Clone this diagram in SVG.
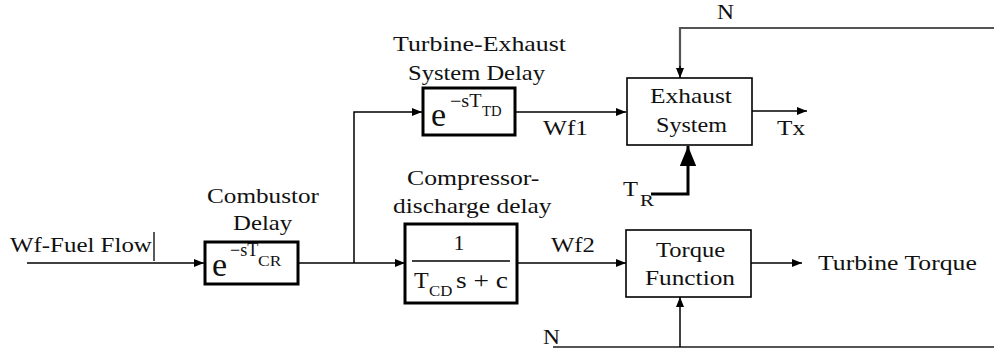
<svg xmlns="http://www.w3.org/2000/svg" width="994" height="352" viewBox="0 0 994 352" font-family="Liberation Serif">
<style>
  .lbl { font-size: 21px; }
  .thin { fill: none; stroke: #000; stroke-width: 1.5; }
  .gray { fill: none; stroke: #555; stroke-width: 2.2; }
  .thick { fill: none; stroke: #000; stroke-width: 3; }
  .tbox { fill: #fff; stroke: #000; stroke-width: 3; }
  .nbox { fill: #fff; stroke: #000; stroke-width: 1.6; }
</style>
<defs>
  <marker id="arr" viewBox="0 0 10 8" refX="10" refY="4" markerWidth="11" markerHeight="8" markerUnits="userSpaceOnUse" orient="auto">
    <path d="M0,0 L10,4 L0,8 z" fill="#000"/>
  </marker>
  <marker id="arrBig" viewBox="0 0 22 18" refX="22" refY="9" markerWidth="20" markerHeight="18" markerUnits="userSpaceOnUse" orient="auto">
    <path d="M0,0 L22,9 L0,18 z" fill="#000"/>
  </marker>
</defs>
<rect width="994" height="352" fill="#fff"/>

<g id="connectors">
  <path class="thin" d="M27,263 H204" marker-end="url(#arr)"/>
  <path class="thin" d="M298,263 H405" marker-end="url(#arr)"/>
  <path class="thin" d="M354,263 V112 H422" marker-end="url(#arr)"/>
  <path class="thin" d="M515,112 H626" marker-end="url(#arr)"/>
  <path class="thin" d="M752,111 H807" marker-end="url(#arr)"/>
  <path class="gray" d="M994,28 H680 V68"/>
  <path class="thin" d="M680,66 V78" marker-end="url(#arr)"/>
  <path class="thick" d="M651,194 H688 V146" marker-end="url(#arrBig)"/>
  <path class="thin" d="M517,263 H626" marker-end="url(#arr)"/>
  <path class="thin" d="M751,263 H802" marker-end="url(#arr)"/>
  <path class="gray" d="M553,347 H994"/>
  <path class="thin" d="M680,347 V297" marker-end="url(#arr)"/>
</g>

<g id="input" font-family="Liberation Serif" fill="#111">
  <text class="lbl" font-family="Liberation Serif" transform="translate(10 252) scale(1.187 1)">Wf-Fuel Flow</text>
  <line x1="154" y1="232" x2="154" y2="261" stroke="#000" stroke-width="1.3"/>
</g>

<g id="combustor-delay" font-family="Liberation Serif" fill="#111">
  <text class="lbl" font-family="Liberation Serif" transform="translate(207 203) scale(1.2 1)">Combustor</text>
  <text class="lbl" font-family="Liberation Serif" transform="translate(233 230) scale(1.18 1)">Delay</text>
  <rect class="tbox" x="205" y="242" width="93" height="42"/>
  <text font-family="Liberation Serif" x="212" y="276" font-size="34">e</text>
  <text font-family="Liberation Serif" x="230" y="256" font-size="18">−sT</text>
  <text font-family="Liberation Serif" transform="translate(258 266) scale(1.25 1)" font-size="14">CR</text>
</g>

<g id="turbine-exhaust-delay" font-family="Liberation Serif" fill="#111">
  <text class="lbl" font-family="Liberation Serif" transform="translate(393 51) scale(1.233 1)">Turbine-Exhaust</text>
  <text class="lbl" font-family="Liberation Serif" transform="translate(408 80) scale(1.169 1)">System Delay</text>
  <rect class="tbox" x="423" y="88" width="92" height="47"/>
  <text font-family="Liberation Serif" x="431" y="126" font-size="34">e</text>
  <text font-family="Liberation Serif" transform="translate(450 107) scale(1.12 1)" font-size="18">−sT</text>
  <text font-family="Liberation Serif" transform="translate(482 116) scale(1.05 1)" font-size="14">TD</text>
</g>

<g id="compressor-discharge-delay" font-family="Liberation Serif" fill="#111">
  <text class="lbl" font-family="Liberation Serif" transform="translate(407 185) scale(1.226 1)">Compressor-</text>
  <text class="lbl" font-family="Liberation Serif" transform="translate(393 213) scale(1.212 1)">discharge delay</text>
  <rect class="tbox" x="405" y="224" width="112" height="79"/>
  <text font-family="Liberation Serif" x="459" y="250" font-size="22" text-anchor="middle">1</text>
  <line x1="412" y1="261" x2="510" y2="261" stroke="#000" stroke-width="1.5"/>
  <text font-family="Liberation Serif" x="414" y="288" font-size="24">T</text>
  <text font-family="Liberation Serif" transform="translate(429 296) scale(1.12 1)" font-size="15">CD</text>
  <text font-family="Liberation Serif" transform="translate(456 288) scale(1.14 1)" font-size="24">s + c</text>
</g>

<g id="exhaust-system" font-family="Liberation Serif" fill="#111">
  <rect class="nbox" x="627" y="78" width="125" height="67"/>
  <text class="lbl" font-family="Liberation Serif" transform="translate(650 103) scale(1.21 1)">Exhaust</text>
  <text class="lbl" font-family="Liberation Serif" transform="translate(656 132) scale(1.148 1)">System</text>
</g>

<g id="torque-function" font-family="Liberation Serif" fill="#111">
  <rect class="nbox" x="626" y="230" width="125" height="67"/>
  <text class="lbl" font-family="Liberation Serif" transform="translate(656 257) scale(1.17 1)">Torque</text>
  <text class="lbl" font-family="Liberation Serif" transform="translate(645 285) scale(1.205 1)">Function</text>
</g>

<g id="labels" font-family="Liberation Serif" fill="#111">
  <text class="lbl" font-family="Liberation Serif" transform="translate(543 135) scale(1.206 1)">Wf1</text>
  <text class="lbl" font-family="Liberation Serif" transform="translate(551 252) scale(1.18 1)">Wf2</text>
  <text class="lbl" font-family="Liberation Serif" transform="translate(717 19) scale(1.12 1)">N</text>
  <text class="lbl" font-family="Liberation Serif" transform="translate(543 344) scale(1.12 1)">N</text>
  <text class="lbl" font-family="Liberation Serif" transform="translate(777 135) scale(1.2 1)">Tx</text>
  <text class="lbl" font-family="Liberation Serif" transform="translate(623 196) scale(1.17 1)">T</text>
  <text font-family="Liberation Serif" transform="translate(640 206) scale(1.3 1)" font-size="16">R</text>
  <text class="lbl" font-family="Liberation Serif" transform="translate(818 270) scale(1.224 1)">Turbine Torque</text>
</g>
</svg>
